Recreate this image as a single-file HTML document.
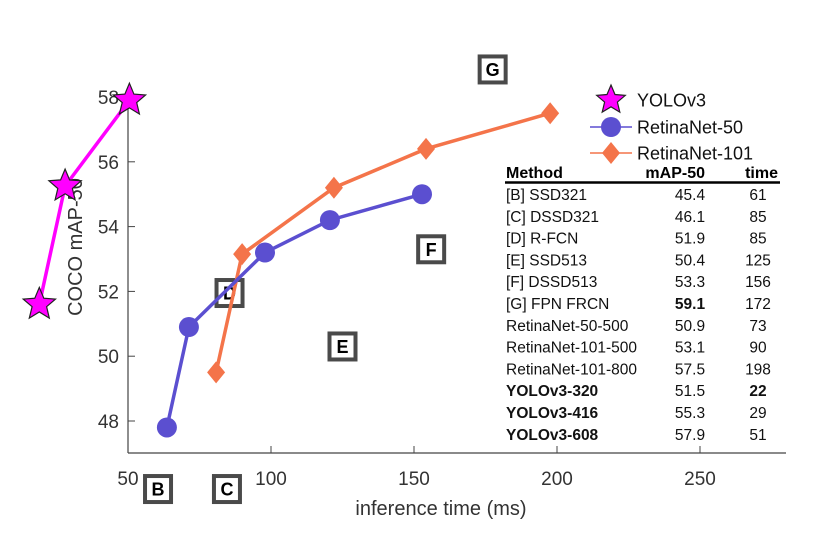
<!DOCTYPE html>
<html><head><meta charset="utf-8"><style>
body{margin:0;background:#fff;}
svg{display:block;font-family:"Liberation Sans",Arial,sans-serif;}
</style></head><body>
<svg id="chart" width="819" height="534" viewBox="0 0 819 534">
<g id="boxes"></g>
<g id="axes"></g>
<g id="series"></g>
<g id="legend"></g>
<g id="table"></g>
</svg>
<script>
const xTicks=[50,100,150,200,250];
const yTicks=[48,50,52,54,56,58];
const yoloX=[19,28,50.5];
const yoloY=[51.6,55.25,57.9];
const r50X=[63.6,71.3,97.9,120.6,152.8];
const r50Y=[47.8,50.9,53.2,54.2,55.0];
const r101X=[80.8,89.9,122,154.2,197.6];
const r101Y=[49.5,53.15,55.2,56.4,57.5];
const boxLetters=["G","F","E","D","C","B"];
const boxX=[177.5,156,125,85.5,84.6,60.5];
const boxY=[58.85,53.3,50.3,51.95,45.9,45.9];
const tMethods=["[B] SSD321","[C] DSSD321","[D] R-FCN","[E] SSD513","[F] DSSD513","[G] FPN FRCN","RetinaNet-50-500","RetinaNet-101-500","RetinaNet-101-800","YOLOv3-320","YOLOv3-416","YOLOv3-608"];
const tMap=["45.4","46.1","51.9","50.4","53.3","59.1","50.9","53.1","57.5","51.5","55.3","57.9"];
const tTime=["61","85","85","125","156","172","73","90","198","22","29","51"];

const NS="http://www.w3.org/2000/svg";
const X=v=>128+(v-50)*2.86;
const Y=v=>97+(58-v)*32.4;
function mk(tag,attrs,parent,text){const e=document.createElementNS(NS,tag);for(const k in attrs)e.setAttribute(k,attrs[k]);if(text!==undefined)e.textContent=text;parent.appendChild(e);return e;}
const boxes=document.getElementById('boxes'),axes=document.getElementById('axes'),series=document.getElementById('series'),legend=document.getElementById('legend'),table=document.getElementById('table');

boxLetters.forEach((L,i)=>{
  const cx=X(boxX[i]),cy=Y(boxY[i]);
  const r=mk('rect',{x:cx-13,y:cy-13,width:26,height:26,fill:'#fff',stroke:'#4a4a4a','stroke-width':4},boxes);
  
  
  const t=mk('text',{x:cx,y:cy+6.5,'text-anchor':'middle','font-size':18,'font-weight':'bold',fill:'#000'},boxes,L);
  
  
});

const yl=mk('line',{x1:128,y1:97,x2:128,y2:453,stroke:'#444','stroke-width':1.2},axes);


const xl=mk('line',{x1:128,y1:453,x2:786,y2:453,stroke:'#444','stroke-width':1.2},axes);


xTicks.forEach(v=>{
  mk('line',{x1:X(v),y1:453,x2:X(v),y2:446,stroke:'#444'},axes);
  const t=mk('text',{x:X(v),y:485,'text-anchor':'middle','font-size':19,fill:'#333'},axes,v);
  
  
});
yTicks.forEach(v=>{
  mk('line',{x1:128,y1:Y(v),x2:135,y2:Y(v),stroke:'#444'},axes);
  const t=mk('text',{x:119,y:Y(v)+7,'text-anchor':'end','font-size':19,fill:'#333'},axes,v);
  
  
});
const xt=mk('text',{x:441,y:515,'text-anchor':'middle','font-size':20,fill:'#333'},axes,'inference time (ms)');


const yt=mk('text',{x:0,y:0,'text-anchor':'middle','font-size':20,fill:'#333',transform:'translate(82,247) rotate(-90)'},axes,'COCO mAP-50');



function starPts(cx,cy,R){const r=R*0.45;let p=[];for(let i=0;i<10;i++){const a=-Math.PI/2+i*Math.PI/5;const rr=i%2?r:R;p.push((cx+rr*Math.cos(a)).toFixed(1)+','+(cy+rr*Math.sin(a)).toFixed(1));}return p.join(' ');}
function drawSeries(xs,ys,color,kind,name){
  const pl=mk('polyline',{points:xs.map((x,i)=>X(x)+','+Y(ys[i])).join(' '),fill:'none',stroke:color,'stroke-width':3.5},series);
  
  
  xs.forEach((x,i)=>{
    const cx=X(x),cy=Y(ys[i]);let m;
    if(kind==='star')m=mk('polygon',{points:starPts(cx,cy,17),fill:'#ff00ff',stroke:'#222','stroke-width':1.2},series);
    else if(kind==='circle')m=mk('circle',{cx:cx,cy:cy,r:10,fill:color},series);
    else m=mk('polygon',{points:`${cx},${cy-11} ${cx+9},${cy} ${cx},${cy+11} ${cx-9},${cy}`,fill:color},series);
    
    
  });
}
drawSeries(r101X,r101Y,'#f4744a','diamond','retinanet-101');
drawSeries(r50X,r50Y,'#5b4fd0','circle','retinanet-50');
drawSeries(yoloX,yoloY,'#ff00ff','star','yolov3');

const ls=mk('polygon',{points:starPts(611,100,15),fill:'#ff00ff',stroke:'#222','stroke-width':1.2},legend);


mk('line',{x1:590,y1:127,x2:632,y2:127,stroke:'#5b4fd0','stroke-width':1.5},legend);
const lc=mk('circle',{cx:611,cy:127,r:10,fill:'#5b4fd0'},legend);


mk('line',{x1:590,y1:153,x2:632,y2:153,stroke:'#f4744a','stroke-width':1.5},legend);
const ld=mk('polygon',{points:'611,142 620,153 611,164 602,153',fill:'#f4744a'},legend);


[['YOLOv3',100],['RetinaNet-50',127],['RetinaNet-101',153]].forEach(([s,y])=>{
  const t=mk('text',{x:637,y:y+6.5,'font-size':18,fill:'#111'},legend,s);
  
  
});

const hdr=[['Method',506,'start'],['mAP-50',705,'end'],['time',778,'end']];
hdr.forEach(([s,x,a])=>{const t=mk('text',{x:x,y:178,'text-anchor':a,'font-size':16,'font-weight':'bold',fill:'#000'},table,s);
  
  });
mk('line',{x1:505,y1:182.5,x2:780,y2:182.5,stroke:'#000','stroke-width':2.5},table);
tMethods.forEach((m,i)=>{
  const y=200+i*21.8;
  const yolo=m.startsWith('YOLO');
  const a=mk('text',{x:506,y:y,'font-size':15.5,fill:'#111','font-weight':yolo?'bold':'normal'},table,m);
  
  
  const b=mk('text',{x:690,y:y,'text-anchor':'middle','font-size':15.5,fill:'#111','font-weight':tMap[i]==='59.1'?'bold':'normal'},table,tMap[i]);
  
  
  const c=mk('text',{x:758,y:y,'text-anchor':'middle','font-size':15.5,fill:'#111','font-weight':tTime[i]==='22'?'bold':'normal'},table,tTime[i]);
  
  
});
</script>
</body></html>
